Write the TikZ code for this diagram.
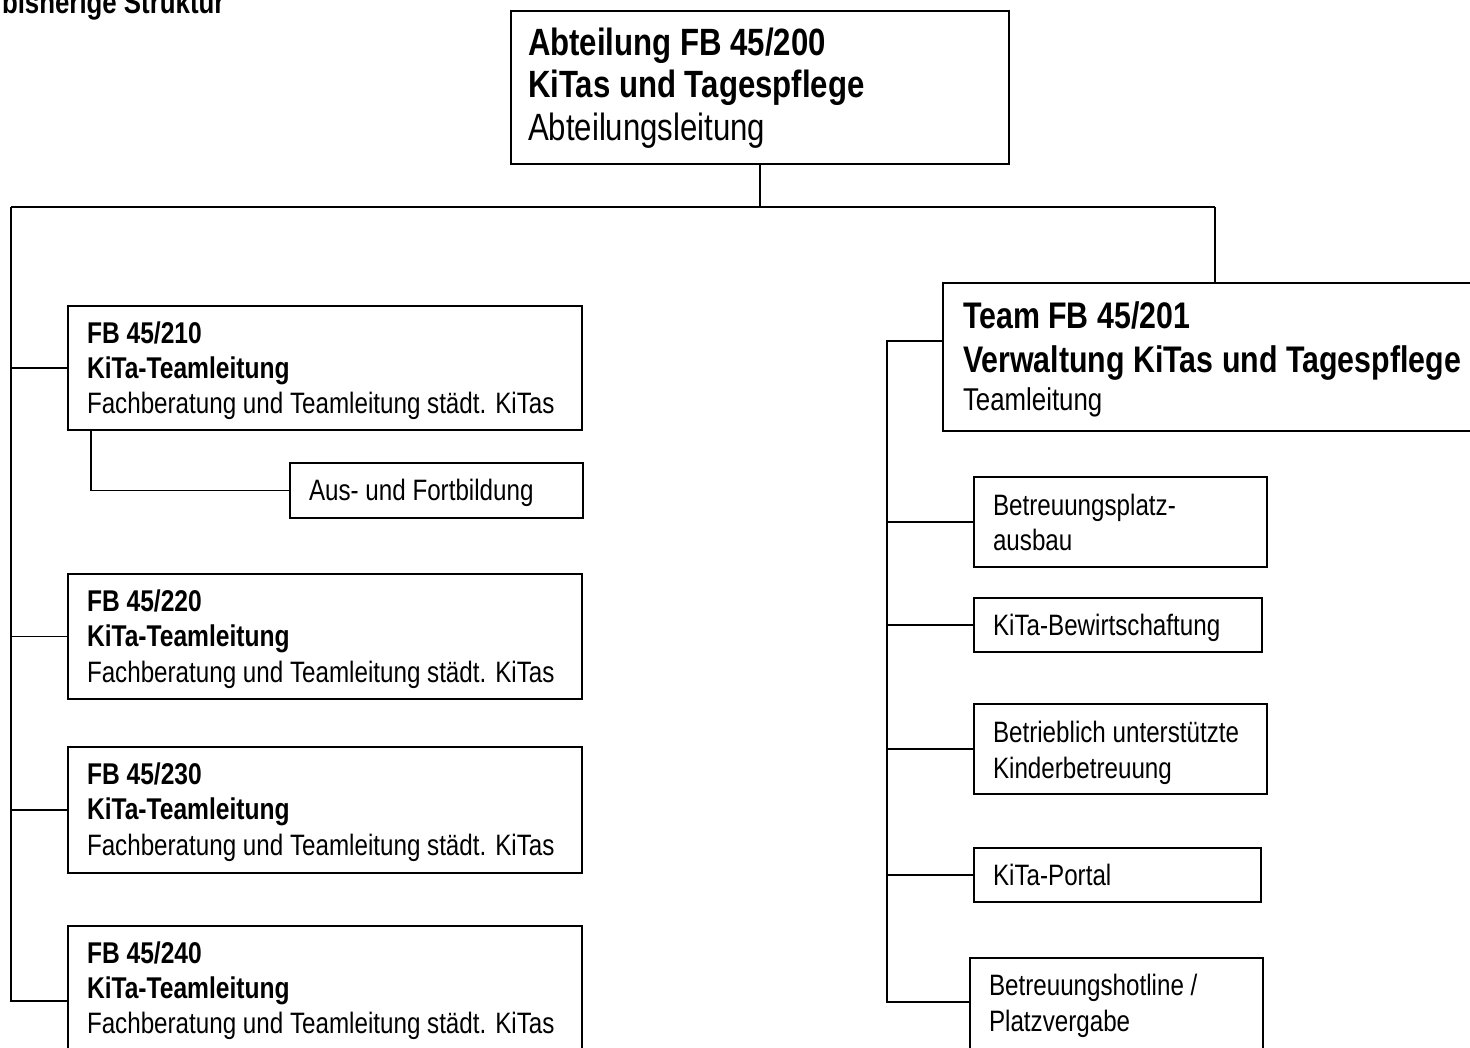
\documentclass[tikz,border=0pt]{standalone}
\usepackage{fontspec}
\setmainfont{Liberation Sans}[FakeStretch=0.82]
\begin{document}
\begin{tikzpicture}[x=1pt,y=-1pt,
  box/.style={draw, line width=1.8pt, anchor=north west, inner sep=0pt},
  txt/.style={anchor=base west, inner sep=0pt, outer sep=0pt},
  big/.style={font=\fontsize{38}{44}\selectfont\bfseries},
  bigr/.style={font=\fontsize{38}{44}\selectfont},
  tbig/.style={font=\fontsize{37}{43}\selectfont\bfseries},
  teamr/.style={font=\fontsize{31.5}{37}\selectfont},
  hd/.style={font=\fontsize{30}{35}\selectfont\bfseries},
  nm/.style={font=\fontsize{29.5}{35}\selectfont},
  ttl/.style={font=\fontsize{31.5}{37}\selectfont\bfseries},
  conn/.style={line width=1.8pt}]
\useasboundingbox (0,0) rectangle (1470,1047);
\clip (0,0) rectangle (1470,1047);

% title
\node[txt, ttl] (title) at (2,13) {bisherige Struktur};

% top box
\node[box, minimum width=498pt, minimum height=153pt] (top) at (510,10) {};
\node[txt, big]  (top1) at (528,55)  {Abteilung FB 45/200};
\node[txt, big]  (top2) at (528,97)  {KiTas und Tagespflege};
\node[txt, bigr] (top3) at (528,140) {Abteilungsleitung};

% team box (cut at right edge)
\node[box, minimum width=560pt, minimum height=148pt] (team) at (942,282) {};
\node[txt, tbig]  (team1) at (963,328) {Team FB 45/201};
\node[txt, tbig]  (team2) at (963,372) {Verwaltung KiTas und Tagespflege};
\node[txt, teamr] (team3) at (963,410) {Teamleitung};

% left boxes
\node[box, minimum width=514pt, minimum height=124pt] (b210) at (67,305) {};
\node[txt, hd] (b210a) at (87,343) {FB 45/210};
\node[txt, hd] (b210b) at (87,378) {KiTa-Teamleitung};
\node[txt, nm] (b210c) at (87,413) {Fachberatung und Teamleitung städt. KiTas};

\node[box, minimum width=293pt, minimum height=55pt] (aus) at (289,462) {};
\node[txt, nm] (ausT) at (309,500) {Aus- und Fortbildung};

\node[box, minimum width=514pt, minimum height=125pt] (b220) at (67,573) {};
\node[txt, hd] (b220a) at (87,611) {FB 45/220};
\node[txt, hd] (b220b) at (87,646) {KiTa-Teamleitung};
\node[txt, nm] (b220c) at (87,682) {Fachberatung und Teamleitung städt. KiTas};

\node[box, minimum width=514pt, minimum height=126pt] (b230) at (67,746) {};
\node[txt, hd] (b230a) at (87,784) {FB 45/230};
\node[txt, hd] (b230b) at (87,819) {KiTa-Teamleitung};
\node[txt, nm] (b230c) at (87,855) {Fachberatung und Teamleitung städt. KiTas};

\node[box, minimum width=514pt, minimum height=135pt] (b240) at (67,925) {};
\node[txt, hd] (b240a) at (87,963)  {FB 45/240};
\node[txt, hd] (b240b) at (87,998)  {KiTa-Teamleitung};
\node[txt, nm] (b240c) at (87,1033) {Fachberatung und Teamleitung städt. KiTas};

% right boxes
\node[box, minimum width=293pt, minimum height=90pt] (bpa) at (973,476) {};
\node[txt, nm] (bpa1) at (993,515) {Betreuungsplatz-};
\node[txt, nm] (bpa2) at (993,550) {ausbau};

\node[box, minimum width=288pt, minimum height=54pt] (bew) at (973,597) {};
\node[txt, nm] (bew1) at (993,635) {KiTa-Bewirtschaftung};

\node[box, minimum width=293pt, minimum height=90pt] (bet) at (973,703) {};
\node[txt, nm] (bet1) at (993,742) {Betrieblich unterstützte};
\node[txt, nm] (bet2) at (993,778) {Kinderbetreuung};

\node[box, minimum width=287pt, minimum height=54pt] (por) at (973,847) {};
\node[txt, nm] (por1) at (993,885) {KiTa-Portal};

\node[box, minimum width=293pt, minimum height=100pt] (hot) at (969,957) {};
\node[txt, nm] (hot1) at (989,995)  {Betreuungshotline /};
\node[txt, nm] (hot2) at (989,1031) {Platzvergabe};

% connectors
\coordinate (busL) at (11,207);
\coordinate (busR) at (1215,207);
\coordinate (jL240) at (11,1001);
\coordinate (rTop) at (887,341);
\coordinate (rBot) at (887,1002);

\draw[conn] (top.south) -- (top.south |- busL);
\draw[conn] (busL) -- (busR);
\draw[conn] (busR) -- (busR |- team.north);
\draw[conn] (busL) -- (jL240) -- (jL240 -| b240.west);
\draw[conn] (busL |- b210.west) -- (b210.west);
\draw[conn] (busL |- b220.west) -- (b220.west);
\draw[conn] (busL |- b230.west) -- (b230.west);
\draw[conn] (b210.south west) ++(24,0) |- (aus.west);

\draw[conn] (rTop -| team.west) -- (rTop) -- (rBot) -- (rBot -| hot.west);
\draw[conn] (rTop |- bpa.west) -- (bpa.west);
\draw[conn] (rTop |- bew.west) -- (bew.west);
\draw[conn] (rTop |- bet.west) -- (bet.west);
\draw[conn] (rTop |- por.west) -- (por.west);
\end{tikzpicture}
\end{document}
